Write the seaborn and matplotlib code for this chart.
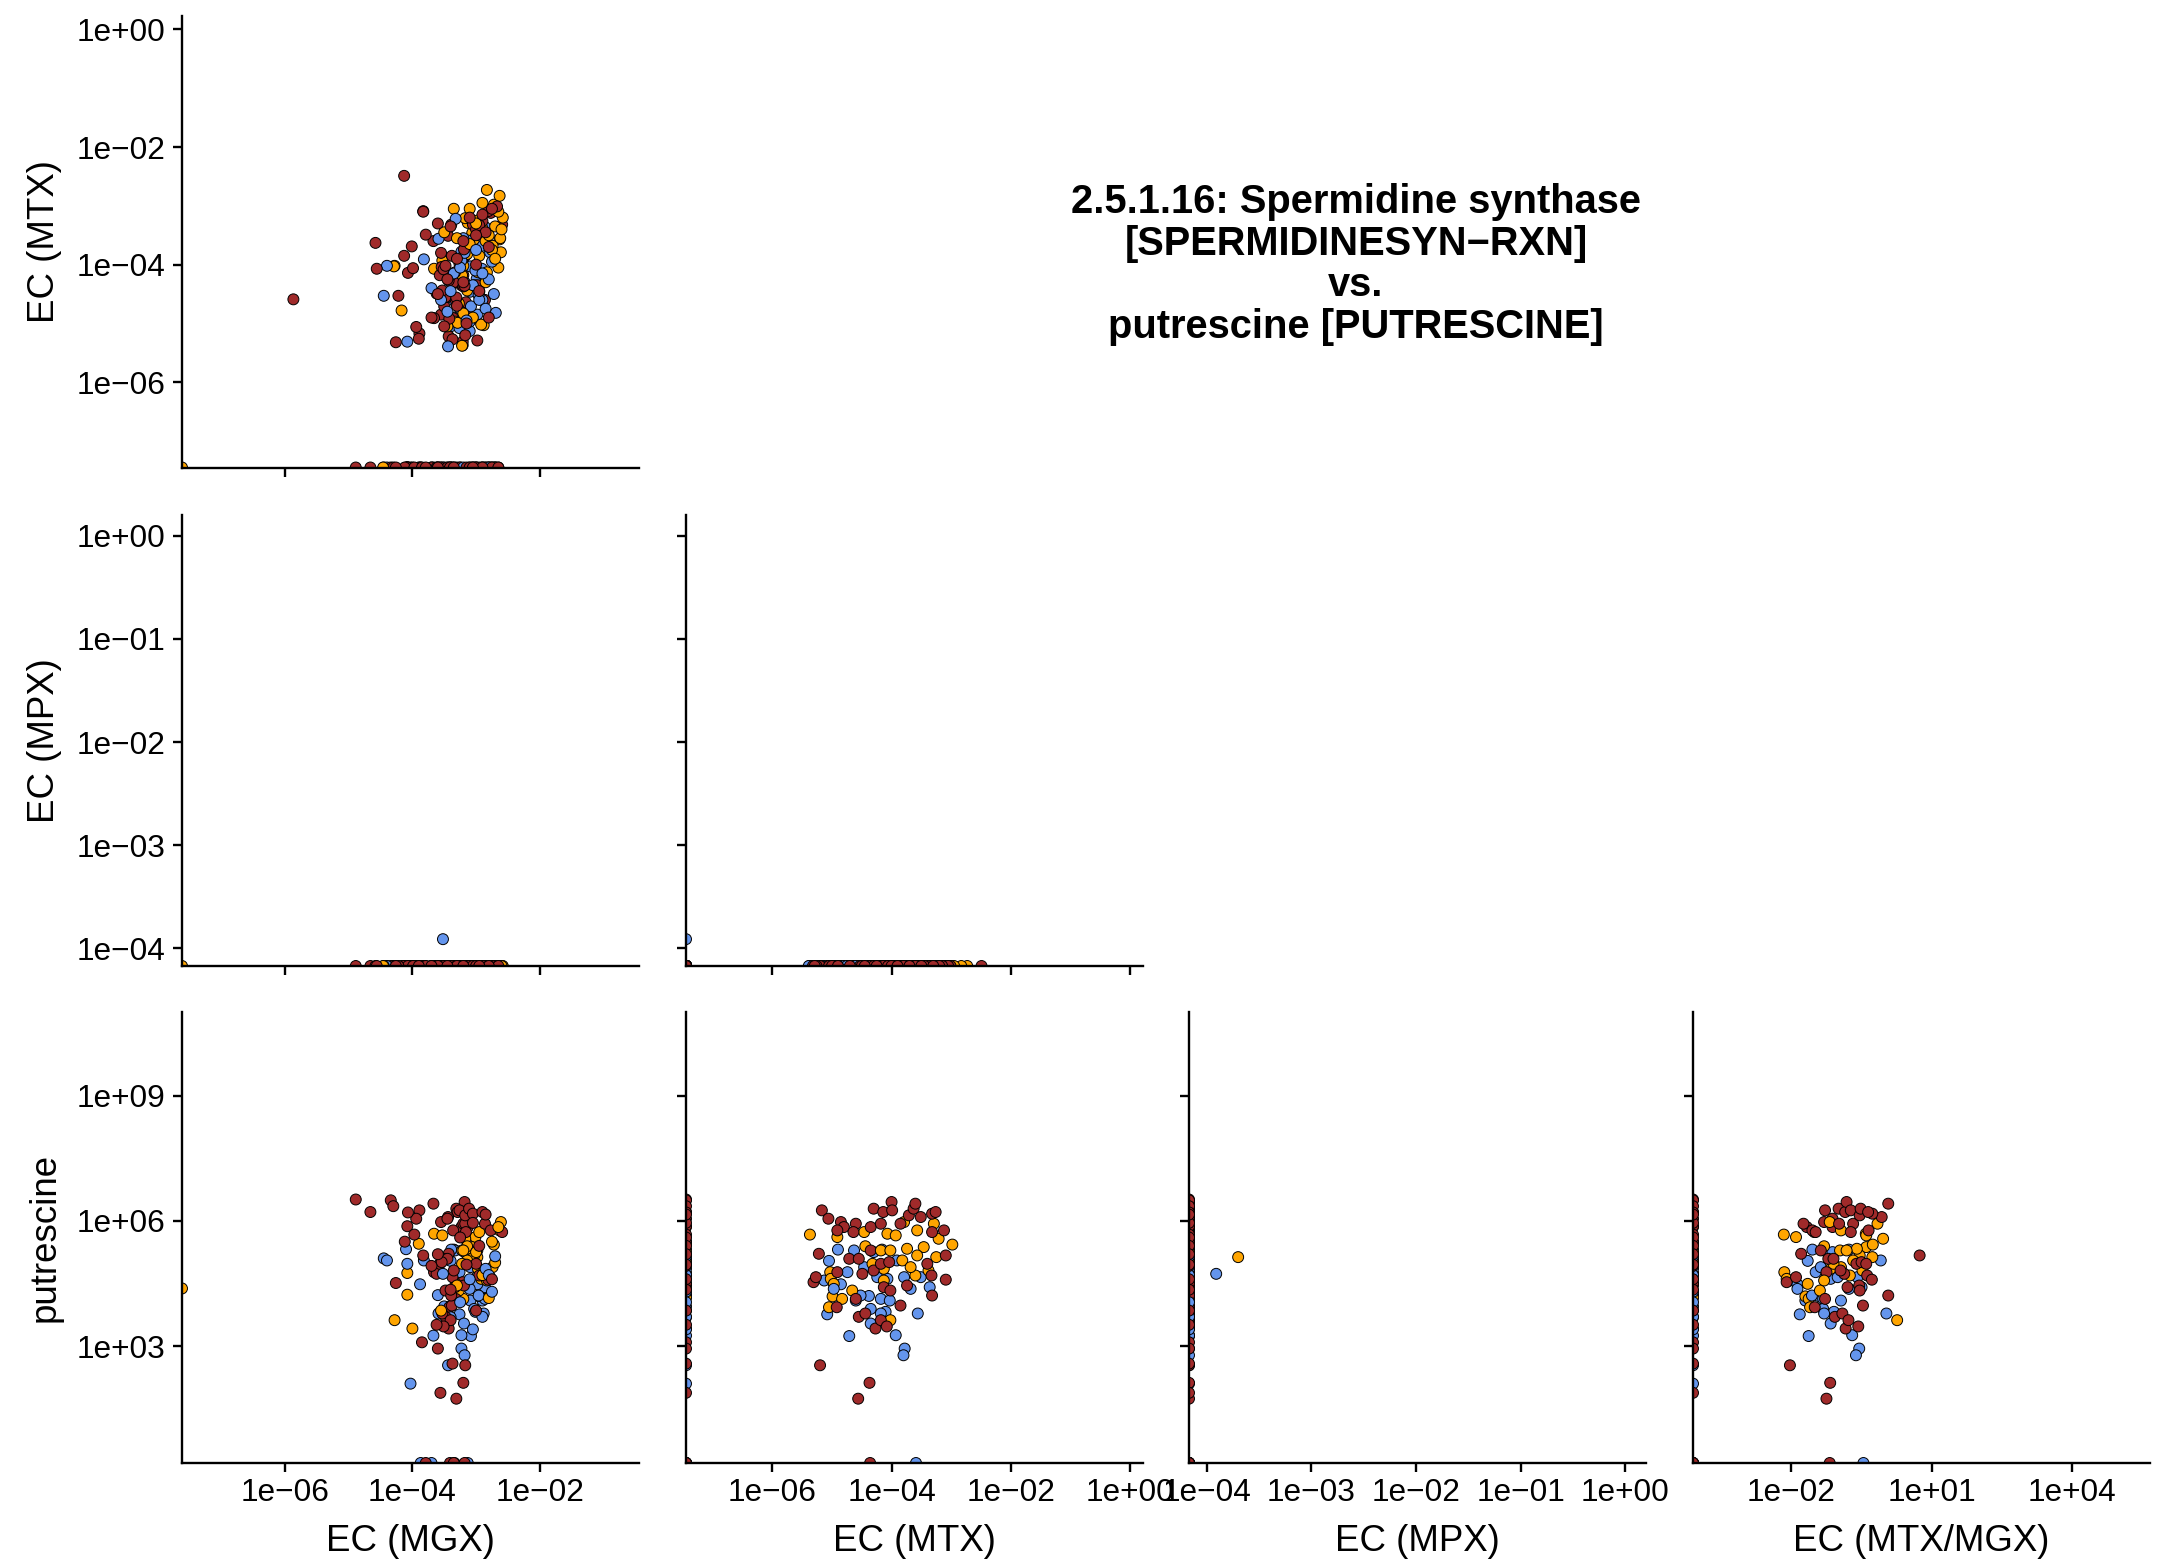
import numpy as np
import pandas as pd
import matplotlib
matplotlib.use("Agg")
import matplotlib.pyplot as plt
from matplotlib.patches import Rectangle
import seaborn as sns

Z = -np.inf   # log10 of a zero abundance, drawn on the panel edge
NA = np.nan   # not measured

# ---- log10 abundances per sample (CD = red, UC = orange, nonIBD = blue) ----
# blocks: metabolomics + transcripts | metabolomics, no transcripts |
#         putrescine not detected | no metabolomics
cd_mgx = [
    -3.89, -3.94, -3.55, -3.13, -2.86, -3.23, -3.31, -3.20, -3.29, -3.18, -3.26, -3.17, -3.17, -3.11, -3.67, -3.44, -3.05, -2.90,
    -3.43, -3.36, -3.16, -2.98, -2.59, -2.77, -3.83,
    -3.21, -3.37, -3.66, -3.50, -3.45, -3.62, -3.35, -3.57, -3.33, -3.54, -3.19, -3.00, -2.95, -2.81,
    -3.42, -3.32, -3.48, -3.53, -3.43, -3.40, -3.51, -3.48, -3.38, -3.39,
    -3.17, -3.20, -3.31,
] + [
    -4.89, -4.66, -4.34, -4.30, -4.07, -4.08, -4.12, -3.97, -4.26, -3.70, -3.85, -3.62, -3.60, -3.37, -3.56,
    -3.45, -3.05, -2.85, -3.25, -2.95, -3.60, -3.15, -2.75, -3.40, -3.00,
] + [-3.18, -3.79, -3.41, -3.35] + [
    -5.87, -4.13, -4.58, -4.56, -4.13, -4.01, -3.83, -3.79, -4.07, -3.99, -4.22, -4.26, -3.90, -2.98, -2.67, -2.75,
    -2.90, -3.10, -3.40, -3.20, -2.85, -3.55, -3.00, -3.60, -3.30, -2.80, -3.50, -3.15, -3.10, -2.90, -2.65, -3.05,
    -3.00, -3.30, -2.80, -3.60, -3.20, -2.95, -3.45, -3.70,
]
cd_mtx = [
    -5.17, -5.06, -4.85, -4.80, -4.60, -4.35, -4.30, -4.18, -4.14, -4.00, -3.99, -3.85, -3.71, -3.63, -3.60, -3.51, -3.32, -3.26,
    -5.22, -4.91, -4.64, -4.35, -3.32, -3.12, -3.09,
    -5.31, -5.27, -4.91, -4.71, -4.55, -4.49, -4.30, -4.18, -4.13, -4.04, -3.74, -3.40, -3.33, -3.09,
    -4.92, -4.60, -4.55, -4.44, -4.27, -4.18, -4.08, -4.02, -3.85, -3.32,
    -5.20, -4.37, -4.56,
] + [Z] * 25 + [-4.36, Z, Z, Z] + [
    -4.59, -2.49, -3.63, -4.07, -3.85, -3.69, -3.10, -3.49, -4.14, -4.06, -4.53, -5.32, -5.26, -5.29, -3.01, -3.05,
    -3.15, -3.20, -3.35, -3.60, -3.45, -3.80, -4.00, -4.50, -4.70, -4.90, -5.05, -5.00, Z, Z, Z, Z,
    -3.50, -3.90, -3.70, -3.30, -4.30, -4.45, -4.25, -4.90,
]
cd_mpx = [Z] * 81 + [NA] + [Z] * 39
cd_put = [
    6.25, 6.05, 5.97, 5.85, 5.93, 5.85, 6.29, 5.93, 6.21, 6.45, 6.25, 5.93, 6.13, 6.29, 6.41, 6.09, 6.17, 6.21,
    5.21, 5.77, 5.73, 5.29, 5.73, 5.77, 5.17,
    4.53, 4.65, 4.77, 5.09, 5.09, 4.73, 4.81, 4.97, 4.41, 5.01, 4.45, 4.97, 4.69, 4.59,
    3.93, 4.13, 3.70, 3.78, 3.42, 3.62, 3.47, 4.33, 3.97, 4.21,
    2.54, 2.12, 1.74,
] + [
    6.51, 6.21, 6.49, 6.35, 6.20, 5.87, 5.50, 5.67, 4.51, 4.92, 3.09, 3.51, 2.94, 2.58, 1.88,
    6.05, 5.95, 6.15, 5.60, 5.40, 5.20, 4.95, 4.60, 4.35, 3.85,
] + [Z] * 4 + [NA] * 40

uc_mgx = [
    -3.21, -3.01, -2.95, -3.66, -3.53, -2.61, -2.63, -3.06, -3.13, -3.17, -2.72, -2.98, -3.03, -3.14, -3.14, -2.85,
    -2.90, -2.74, -2.97, -3.22, -3.14, -3.22, -3.20, -2.88, -2.92, -3.32, -3.29, -3.20, -3.45, -2.83, -4.28, -3.27,
] + [
    -3.90, -4.08, -4.08, -4.00, -2.65, -2.75, -3.00, -2.70, -2.90, -3.30, -2.80, -3.55,
] + [Z, NA] + [
    -4.29, -4.17, -3.22, -2.83, -2.63, -2.58, -2.65, -2.70, -2.62, -2.90, -3.00, -3.35, -2.75, -2.65, -3.10, -3.50,
    -2.85, -3.05, -4.46, -2.70, -3.00, -2.80, -3.10, -2.70, -2.95, -3.30, -2.60,
]
uc_mtx = [
    -5.37, -4.91, -4.46, -4.07, -3.93, -3.79, -3.57, -3.46, -3.29, -3.21, -2.98, -3.25, -3.57, -3.74, -3.82, -3.60,
    -3.38, -3.68, -4.13, -4.32, -4.44, -4.18, -4.02, -5.03, -5.02, -4.97, -4.99, -4.83, -5.05, -4.13, -4.02, -4.66,
] + [Z] * 12 + [Z, NA] + [
    -4.03, -4.78, -5.38, -2.73, -2.83, -3.20, -3.10, -3.35, -3.55, -2.95, -3.30, -3.05, -3.75, -4.05, -3.65, -3.45,
    -4.30, -4.90, Z, Z, Z, -3.50, -3.05, -3.90, -3.85, -3.55, -3.40,
]
uc_mpx = [Z] * 44 + [Z, -3.70] + [Z] * 27
uc_put = [
    5.67, 5.61, 5.73, 5.69, 5.65, 5.97, 5.77, 5.37, 5.93, 5.57, 5.43, 5.13, 5.17, 5.33, 5.05, 4.69,
    4.81, 4.89, 4.85, 4.97, 5.39, 5.29, 5.29, 4.77, 4.61, 4.49, 4.19, 4.13, 3.93, 4.57, 3.62, 4.33,
] + [
    5.45, 4.75, 4.23, 3.42, 5.85, 5.50, 5.25, 5.00, 4.70, 4.45, 4.15, 3.85,
] + [4.38, 5.13] + [NA] * 27

nonibd_mgx = [
    -3.35, -3.40, -3.26, -3.33, -3.39, -3.18, -3.09, -2.99, -2.91, -3.82, -2.78, -2.91, -2.92, -2.86, -3.10, -2.98,
    -2.90, -2.96, -2.86, -3.09, -3.03, -3.01, -2.88, -3.26, -3.08, -3.23, -3.23, -3.18, -3.59, -3.10, -2.96, -3.19,
] + [
    -4.45, -4.40, -4.10, -4.08, -3.88, -3.60, -3.50, -3.40, -3.67, -3.44, -4.03, -3.52,
    -2.70, -2.85, -3.10, -2.75, -3.25, -2.90, -3.05, -2.80,
] + [-3.13, -3.87, -3.70, -3.34] + [
    -4.40, -4.45, -4.08, -3.44, -2.69, -3.32, -2.75, -2.80, -3.05, -3.35, -3.70, -3.45, -2.95, -3.20, -2.72,
    -2.80, -3.20, -3.00, -3.25, -2.90, -3.55, -2.85, -3.15, -3.40,
]
nonibd_mtx = [
    -4.90, -5.05, -4.74, -4.63, -4.16, -4.30, -4.46, -4.24, -4.07, -3.91, -3.79, -3.68, -3.51, -3.36, -5.13, -4.85,
    -4.60, -4.38, -4.18, -4.03, -4.35, -4.10, -4.18, -5.08, -4.71, -3.93, -3.78, -3.80, -3.56, -4.97, -4.52, -4.35,
] + [Z] * 20 + [-3.59, Z, Z, Z] + [
    -4.02, -4.53, -5.31, -5.39, -4.82, -3.22, -3.95, -4.25, -4.35, -4.15, -4.40, -4.80, -4.60, -3.55, -4.50,
    Z, Z, -3.75, -4.05, -4.15, -4.60, -4.75, -4.95, -4.45,
]
nonibd_mpx = [Z] * 43 + [-3.91] + [Z] * 36
nonibd_put = [
    5.31, 5.04, 4.77, 5.29, 5.31, 5.25, 4.89, 4.65, 4.61, 5.05, 4.65, 4.37, 4.65, 4.41, 4.57, 4.48,
    4.09, 4.20, 4.13, 4.09, 3.89, 3.82, 3.78, 3.76, 3.24, 3.26, 2.94, 2.78, 3.78, 4.37, 4.21, 3.54,
] + [
    5.10, 5.05, 5.32, 4.97, 4.48, 4.22, 3.95, 3.69, 3.25, 2.54, 2.10, 4.73,
    5.15, 4.85, 4.60, 4.30, 4.05, 3.70, 3.40, 4.70,
] + [Z] * 4 + [NA] * 24

# ---- axes: log10 limits and tick exponents ----
mgx_lim, mgx_ticks = (-7.62, -0.44), [-6, -4, -2]
mtx_lim, mtx_ticks = (-7.45, 0.22), [-6, -4, -2, 0]
mtx_row1_ticks = [0, -2, -4, -6]
mpx_lim, mpx_ticks = (-4.17, 0.20), [-4, -3, -2, -1, 0]
put_lim, put_ticks = (0.2, 11.0), [3, 6, 9]
ratio_lim, ratio_ticks = (-4.1, 5.66), [-2, 1, 4]

title = ("2.5.1.16: Spermidine synthase\n[SPERMIDINESYN\u2212RXN]\nvs.\n"
         "putrescine [PUTRESCINE]")
palette = {"CD": "#A02A2A", "UC": "#FFA500", "nonIBD": "#6495ED"}

sns.set_style("ticks")
plt.rcParams["font.family"] = ["Liberation Sans", "DejaVu Sans"]
plt.rcParams.update({"text.color": "black", "axes.labelcolor": "black",
                     "xtick.color": "black", "ytick.color": "black"})

frames = []
for name, cols in [("CD", (cd_mgx, cd_mtx, cd_mpx, cd_put)),
                   ("UC", (uc_mgx, uc_mtx, uc_mpx, uc_put)),
                   ("nonIBD", (nonibd_mgx, nonibd_mtx, nonibd_mpx, nonibd_put))]:
    d = pd.DataFrame({k: 10.0 ** np.array(v, dtype=float)
                      for k, v in zip(["mgx", "mtx", "mpx", "put"], cols)})
    d["group"] = name
    d["order"] = np.arange(len(d))
    frames.append(d)
df = pd.concat(frames).sort_values("order", kind="stable").reset_index(drop=True)
with np.errstate(divide="ignore", invalid="ignore"):
    df["ratio"] = df["mtx"] / df["mgx"]


def sci(k):
    return "1e" + ("+" if k >= 0 else "\u2212") + f"{abs(k):02d}"


def panel(ax, x, y, xlim, ylim, xt, yt, xlab=None, ylab=None, show_x=True, show_y=True):
    d = df[[x, y, "group"]].replace([np.inf], np.nan).dropna()
    # zeros sit on the panel edge, like -Inf on a ggplot log scale
    d[x] = d[x].clip(lower=10 ** xlim[0])
    d[y] = d[y].clip(lower=10 ** ylim[0])
    sns.scatterplot(data=d, x=x, y=y, hue="group", palette=palette, s=62,
                    edgecolor="black", linewidth=0.7, legend=False, ax=ax)
    ax.set_xscale("log")
    ax.set_yscale("log")
    ax.set_xlim(10 ** xlim[0], 10 ** xlim[1])
    ax.set_ylim(10 ** ylim[0], 10 ** ylim[1])
    ax.set_xticks([10.0 ** k for k in xt])
    ax.set_yticks([10.0 ** k for k in yt])
    ax.set_xticklabels([sci(k) for k in xt] if show_x else [])
    ax.set_yticklabels([sci(k) for k in yt] if show_y else [])
    ax.minorticks_off()
    ax.tick_params(direction="out", length=6.5, width=1.7, color="black",
                   labelsize=22.8, labelcolor="black")
    ax.tick_params(axis="y", pad=5.5)
    ax.tick_params(axis="x", pad=4)
    for s in ["top", "right"]:
        ax.spines[s].set_visible(False)
    for s in ["left", "bottom"]:
        ax.spines[s].set_linewidth(1.7)
        ax.spines[s].set_color("black")
    ax.set_xlabel(xlab or "", fontsize=26.4)
    ax.set_ylabel(ylab or "", fontsize=26.4)
    ax.xaxis.set_label_coords(0.5, -0.175)
    ax.xaxis.label.set_va("center")
    ax.yaxis.set_label_coords(-0.30, 0.5)
    ax.yaxis.label.set_va("center")


W, H = 2161, 1565
fig = plt.figure(figsize=(W / 100, H / 100), dpi=100)
col_left = [182, 686, 1189, 1693]
row_top = [16.5, 515, 1012]
pw, ph = 457, 451


def add_ax(r, c):
    return fig.add_axes([col_left[c] / W, 1 - (row_top[r] + ph) / H, pw / W, ph / H])


panel(add_ax(0, 0), "mgx", "mtx", mgx_lim, mtx_lim, mgx_ticks, mtx_row1_ticks,
      ylab="EC (MTX)", show_x=False)
panel(add_ax(1, 0), "mgx", "mpx", mgx_lim, mpx_lim, mgx_ticks, mpx_ticks,
      ylab="EC (MPX)", show_x=False)
panel(add_ax(1, 1), "mtx", "mpx", mtx_lim, mpx_lim, mtx_ticks, mpx_ticks,
      show_x=False, show_y=False)
panel(add_ax(2, 0), "mgx", "put", mgx_lim, put_lim, mgx_ticks, put_ticks,
      xlab="EC (MGX)", ylab="putrescine")
panel(add_ax(2, 1), "mtx", "put", mtx_lim, put_lim, mtx_ticks, put_ticks,
      xlab="EC (MTX)", show_y=False)
ax_mpx = add_ax(2, 2)
# this panel's white background hides the end of the neighbour's last tick label
ax_mpx.add_patch(Rectangle((1171 / W, 1 - 1512 / H), 17 / W, 46 / H,
                           transform=fig.transFigure, facecolor="white",
                           edgecolor="none", clip_on=False, zorder=0.5))
panel(ax_mpx, "mpx", "put", mpx_lim, put_lim, mpx_ticks, put_ticks,
      xlab="EC (MPX)", show_y=False)
panel(add_ax(2, 3), "ratio", "put", ratio_lim, put_lim, ratio_ticks, put_ticks,
      xlab="EC (MTX/MGX)", show_y=False)

fig.text(1356 / W, 1 - 264.5 / H, title, ha="center", va="center",
         fontsize=28.7, fontweight="bold", linespacing=1.13, color="black")

fig.savefig("out.png", dpi=100)
